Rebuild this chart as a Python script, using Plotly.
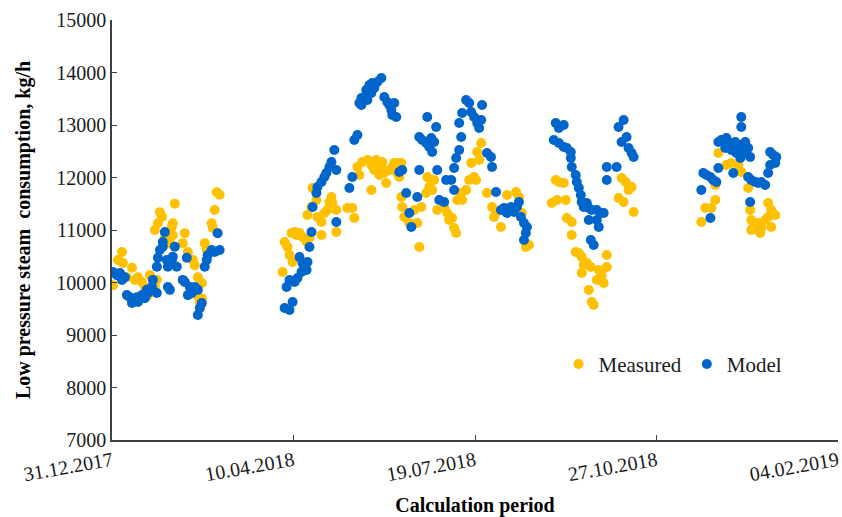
import pandas as pd
import plotly.graph_objects as go

# Days elapsed since 31.12.2017 and low pressure steam consumption, kg/h
measured_day = [
    0.5, 1.6, 3.3, 5.5, 6, 8.2, 11, 12.6, 14.3, 16.5, 18.1, 19.8, 20.9, 23.6, 24.7,
    23.6, 25.3, 26.4, 27.5, 29.1, 31.9, 33.5, 33, 34.6, 33.5, 40.1, 39, 41.8, 44.5,
    45.6, 47.3, 49.5, 46.7, 48.4, 49.5, 51.1, 52.2, 54.9, 56.6, 57.7, 59.3, 55.5,
    94, 95.1, 96.7, 97.8, 99.5, 98.9, 100.6, 101.6, 103.3, 105, 107.2, 108.8, 107.7,
    109.9, 110.5, 112.6, 113.2, 115.4, 117, 118.7, 119.8, 120.9, 121.4, 123.6, 123.6,
    115.4, 129.7, 132.4, 133.5, 135.2, 136.3, 137.9, 140.7, 142.9, 144.5, 145.6, 147.3,
    148.4, 148.9, 150, 151.1, 152.8, 154.4, 155.5, 157.2, 142.9, 159.4,
    157.2, 158.3, 159.4, 159.9, 161, 163.8, 166.5, 168.2, 169.3, 170.4, 173.7, 174.8,
    175.9, 176.4, 173.1, 177.5, 179.2, 183, 184.7, 185.8, 187.4, 188.5, 189.6, 190.2,
    192.4, 192.9, 195.1, 196.8, 197.9, 199.5, 200.6, 202.3, 203.4, 201.2, 206.6, 209.4,
    210.5, 211.6, 214.3, 217.6, 222.6, 224.2, 225.8, 228, 229.7,
    244.5, 246.2, 248.9, 242.3, 245.1, 250, 250.6, 253.3, 253.3, 255.5, 257.2, 258.8,
    259.9, 258.8, 261.6, 263.8, 268.2, 269.8, 270.9, 267.1, 262.7, 264.3, 265.4, 272.6,
    272.6, 280.8, 283, 284.6, 286.3, 279.1, 281.9, 287.4,
    334.1, 338.5, 341.2, 345.1, 346.7, 350.5, 324.7, 326.9, 330.2, 332.4, 332.4, 351.6,
    352.2, 353.3, 356, 357.7, 359.9, 361.5, 361.5, 363.2, 365.4, 363.2, 357.1, 352.2,
]
measured_kgh = [
    9950, 10180, 10430, 10580, 10370, 10100, 10280, 10050, 10100, 10010, 9915, 9760, 10140, 9915, 10050,
    11000, 11130, 11340, 11250, 10850, 10750, 10900, 11060, 11500, 11130, 10940, 10750, 10580, 10430,
    10330, 10100, 9990, 9760, 9630, 9700, 10750, 10620, 11130, 11380, 11720, 11670, 11040,
    10200, 10772, 10677, 10524, 10391, 10943, 10962, 10905, 10943, 10867, 10772, 10848, 11286,
    11439, 11801, 11572, 11248, 11153, 11324, 11382, 11534, 11629, 11515, 11382, 10962,
    10905, 11420, 11420, 11229, 12201, 12048, 12296, 12334, 12239, 12144, 12334, 12048,
    12201, 12296, 12086, 11896, 12144, 12201, 12277, 12086, 11763, 12277,
    12277, 12010, 11629, 11439, 11248, 11134, 11382, 11134, 10677, 11439, 12010, 11820,
    11953, 11763, 11705, 11953, 11382, 11439, 11324, 11191, 11229, 11039, 10943, 11572,
    11705, 11572, 11763, 11953, 12277, 12010, 11953, 12334, 12658, 12486, 11705, 11439,
    11248, 11343, 11058, 11667, 11724, 11629, 11324, 10677, 10715,
    11953, 11915, 11896, 11515, 11572, 11572, 11229, 11153, 10905, 10581, 10562, 10486,
    10334, 10181, 10372, 10296, 10239, 10143, 9991, 10048, 9858, 9629, 9572, 10524,
    10296, 11991, 11915, 11763, 11820, 11610, 11534, 11343,
    12467, 12239, 12277, 12239, 12105, 11801, 11153, 11420, 11420, 11572, 11858, 11382,
    11191, 11058, 11134, 11039, 11191, 11248, 11515, 11382, 11286, 11058, 10943, 11000,
]

model_day = [
    0.5, 2.7, 4.4, 5.5, 7.1, 8.2, 9.9, 11, 13.7, 14.3, 16.5, 18.1, 19.2, 19.8, 22, 22.5,
    24.7, 24.7, 25.3, 26.4, 28, 29.1, 28, 30.2, 30.8, 33, 33.5, 34.6, 35.7, 30.8, 31.9,
    40.1, 41.2, 39, 42.9, 44, 45.6, 47.3, 41.8, 49.5, 48.4, 47.3, 51.1, 52.2, 52.7, 54.9,
    56.6, 59.3, 58.2,
    95.1, 97.8, 99.5, 96.2, 97.8, 100.6, 102.2, 103.3, 105, 106.1, 107.2, 107.7, 104.4,
    108.8, 109.9, 110.5, 112.6, 113.2, 115.4, 117, 118.1, 119.8, 120.9, 122.5, 123.6,
    123.6, 130.8, 132.4, 133.5, 135.2, 136.3, 137.4, 139, 140.1, 141.8, 143.4, 144.5,
    146.2, 148.4, 150, 151.7, 152.8, 153.9, 155.5, 154.4, 156.6, 137.4, 140.7, 142.9,
    158.3, 159.9, 162.1, 163.8, 164.9, 168.2, 169.3, 173.7, 178.6, 169.3, 170.9, 173.1,
    175.9, 174.8, 176.4, 177.5, 179.2, 180.3, 183, 184.1, 186.9, 188.5, 188.5, 189.6,
    191.3, 192.4, 191.3, 192.9, 195.1, 196.8, 197.9, 199.5, 201.2, 202.3, 203.9, 203.4,
    206.6, 208.8, 209.4, 211.6, 214.3, 216, 217.6, 219.8, 221.5, 223.1, 224.2, 225.3,
    227, 228.6, 228, 227,
    244.5, 246.2, 248.9, 243.4, 246.2, 248.9, 250.6, 252.8, 252.8, 253.3, 255.5, 256.1,
    257.2, 258.3, 258.8, 259.9, 261.6, 262.7, 264.3, 267.1, 269.3, 270.9, 267.1, 268.2,
    262.7, 263.8, 265.4, 272.6, 272.6, 278, 279.1, 281.9, 280.8, 283.5, 284.6, 286.3, 287.4,
    346.7, 346.7, 334.1, 335.7, 338.5, 340.7, 343.4, 345.1, 346.7, 348.9, 350.5, 348.9,
    351.6, 337.9, 341.2, 344, 346.2, 325.8, 327.5, 329.7, 331.3, 333, 334.1, 342.3,
    324.7, 329.7, 350.5, 352.2, 354.4, 356, 357.7, 359.9, 361.5, 362.6, 362.6, 364.3,
    366, 365.4, 351.6,
]
model_kgh = [
    10200, 10140, 10180, 10050, 10100, 9760, 9720, 9610, 9720, 9630, 9760, 9700, 9860, 9800, 9915, 10050,
    9800, 10300, 10470, 10620, 10680, 10960, 10770, 10430, 10300, 10430, 10490, 10680, 10300, 9915, 9860,
    10010, 10470, 10050, 9915, 9800, 9915, 9860, 9760, 9610, 9515, 9380, 10300, 10430, 10520, 10620,
    10580, 10620, 10940,
    9515, 9477, 9629, 9915, 10048, 10010, 10086, 10486, 10372, 10277, 10239, 10391, 10200,
    10677, 10962, 11439, 11705, 11820, 11915, 12010, 12086, 12201, 12296, 12525, 12144,
    11153, 11801, 12010, 12715, 12810, 13420, 13515, 13534, 13668, 13763, 13801, 13706,
    13820, 13896, 13534, 13439, 13382, 13287, 13420, 13191, 13153, 13382, 13477, 13610,
    12105, 12144, 11705, 11324, 11058, 11629, 12144, 13153, 12963, 12772, 12715, 12658,
    12753, 12582, 12486, 12677, 12144, 11572, 11534, 11953, 11953, 11763, 12182, 12372,
    12525, 12772, 13039, 13229, 13477, 13420, 13248, 13153, 13039, 12944, 13382, 13096,
    12467, 12391, 12201, 11724, 11382, 11420, 11324, 11439, 11343, 11439, 11534, 11248,
    11134, 11058, 10943, 10810,
    13039, 12944, 13001, 12715, 12658, 12582, 12563, 12486, 12372, 12201, 12048, 11915,
    11801, 11667, 11534, 11439, 11515, 11420, 11382, 11382, 11324, 11324, 11191, 11058,
    11191, 10810, 10715, 12201, 11953, 12201, 12963, 13096, 12677, 12772, 12563, 12467, 12391,
    13153, 12963, 12677, 12715, 12753, 12658, 12677, 12582, 12620, 12677, 12563, 12467,
    12391, 12563, 12525, 12467, 12372, 12086, 12048, 12010, 11953, 11915, 12182, 12086,
    11763, 11229, 12010, 11953, 11915, 11896, 11915, 11858, 12086, 12239, 12486, 12429,
    12391, 12277, 11534,
]

start = pd.Timestamp("2017-12-31")
tick_dates = ["2017-12-31", "2018-04-10", "2018-07-19", "2018-10-27", "2019-02-04"]
tick_labels = ["31.12.2017", "10.04.2018", "19.07.2018", "27.10.2018", "04.02.2019"]

measured_x = start + pd.to_timedelta(measured_day, unit="D")
model_x = start + pd.to_timedelta(model_day, unit="D")

SERIF = "Liberation Serif, Times New Roman, serif"
AXIS = "#404040"
TEXT = "#1a1a1a"

fig = go.Figure()
fig.add_trace(go.Scatter(
    x=measured_x, y=measured_kgh, mode="markers", name="Measured",
    marker=dict(color="#FFC000", size=10, line=dict(width=0)),
))
fig.add_trace(go.Scatter(
    x=model_x, y=model_kgh, mode="markers", name="Model",
    marker=dict(color="#0066CC", size=10, line=dict(width=0)),
))

fig.update_layout(
    width=842, height=517,
    margin=dict(l=112, r=2, t=20, b=77),
    paper_bgcolor="white", plot_bgcolor="white",
    font=dict(family=SERIF, size=20, color=TEXT),
    showlegend=True,
    legend=dict(
        orientation="h", x=0.615, y=0.18, xanchor="left", yanchor="middle",
        font=dict(family=SERIF, size=21, color=TEXT),
        bgcolor="rgba(0,0,0,0)", itemwidth=30,
    ),
    xaxis=dict(
        type="date",
        range=[tick_dates[0], tick_dates[-1]],
        tickvals=tick_dates, ticktext=tick_labels,
        tickangle=-10, ticklabeloverflow="allow",
        ticks="inside", ticklen=5, tickcolor=AXIS,
        showline=True, linecolor=AXIS, linewidth=1.5,
        showgrid=False, zeroline=False,
        tickfont=dict(family=SERIF, size=20, color=TEXT),
        title=dict(text="<b>Calculation period</b>", standoff=16,
                   font=dict(family=SERIF, size=20, color="#000000")),
    ),
    yaxis=dict(
        range=[7000, 15000], dtick=1000, tick0=7000, tickformat="d",
        ticks="inside", ticklen=5, tickcolor=AXIS,
        showline=True, linecolor=AXIS, linewidth=1.5,
        showgrid=False, zeroline=False,
        tickfont=dict(family=SERIF, size=20, color=TEXT),
        title=dict(text="<b>Low pressure steam  consumption, kg/h</b>", standoff=20,
                   font=dict(family=SERIF, size=20, color="#000000")),
    ),
)

fig.write_html("out.html")
